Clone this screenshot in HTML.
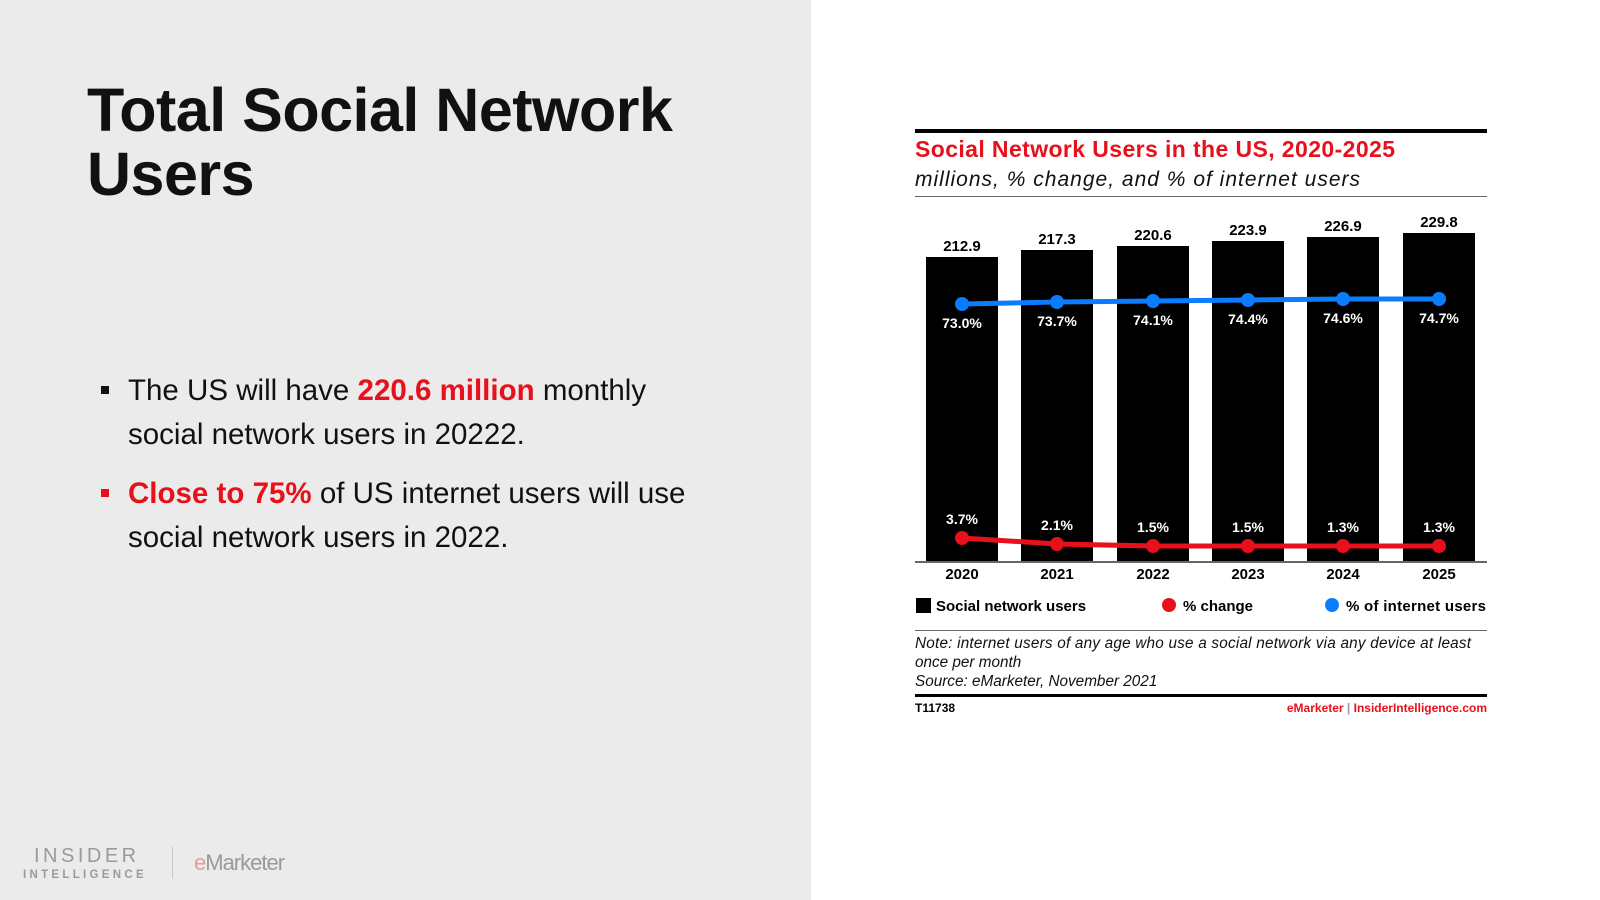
<!DOCTYPE html>
<html><head><meta charset="utf-8"><style>
body{margin:0;width:1600px;height:900px;position:relative;background:#fff;font-family:"Liberation Sans",sans-serif;overflow:hidden}
.left{position:absolute;left:0;top:0;width:811px;height:900px;background:#ebebeb}
.t{position:absolute;left:87px;top:78px;font-size:61px;font-weight:bold;line-height:64px;color:#111;letter-spacing:-0.5px}
.b{position:absolute;left:128px;font-size:29.5px;line-height:44px;color:#111}
.sq{position:absolute;left:101px;width:8px;height:8px}
.red{color:#e8101b;font-weight:bold}
</style></head><body>
<div class="left">
<div class="t">Total Social Network<br>Users</div>
<div class="sq" style="top:386px;background:#111"></div>
<div class="b" style="top:369px">The US will have <span class="red">220.6 million</span> monthly<br>social network users in 20222.</div>
<div class="sq" style="top:489px;background:#e8101b"></div>
<div class="b" style="top:472px"><span class="red">Close to 75%</span> of US internet users will use<br>social network users in 2022.</div>
<div style="position:absolute;left:34px;top:846px;font-size:20px;letter-spacing:3.5px;color:#9a9a9a;line-height:20px">INSIDER</div>
<div style="position:absolute;left:23px;top:869px;font-size:11.5px;letter-spacing:3.3px;color:#9a9a9a;font-weight:bold">INTELLIGENCE</div>
<div style="position:absolute;left:172px;top:847px;width:1px;height:32px;background:#c8c8c8"></div>
<div style="position:absolute;left:194px;top:850px;font-size:22px;color:#9a9a9a;letter-spacing:-1px"><span style="color:#e89aa0">e</span>Marketer</div>
</div>
<svg style="position:absolute;left:0;top:0" width="1600" height="900" font-family="Liberation Sans, sans-serif">
<rect x="915" y="129" width="572" height="4" fill="#000"/>
<text x="915" y="157" font-size="23" font-weight="bold" fill="#e8101b" textLength="480">Social Network Users in the US, 2020-2025</text>
<text x="915" y="186" font-size="21" font-style="italic" fill="#111" textLength="445">millions, % change, and % of internet users</text>
<rect x="915" y="196" width="572" height="1" fill="#666"/>
<g fill="#000">
<rect x="926" y="257" width="72" height="305"/><rect x="1021" y="250" width="72" height="312"/>
<rect x="1117" y="246" width="72" height="316"/><rect x="1212" y="241" width="72" height="321"/>
<rect x="1307" y="237" width="72" height="325"/><rect x="1403" y="233" width="72" height="329"/>
</g>
<rect x="915" y="561" width="572" height="2" fill="#666"/>
<g font-size="15" font-weight="bold" text-anchor="middle" fill="#000">
<text x="962" y="251">212.9</text><text x="1057" y="244">217.3</text><text x="1153" y="240">220.6</text>
<text x="1248" y="235">223.9</text><text x="1343" y="231">226.9</text><text x="1439" y="227">229.8</text>
<text x="962" y="579">2020</text><text x="1057" y="579">2021</text><text x="1153" y="579">2022</text>
<text x="1248" y="579">2023</text><text x="1343" y="579">2024</text><text x="1439" y="579">2025</text>
</g>
<polyline points="962,304 1057,302 1153,301 1248,300 1343,299 1439,299" fill="none" stroke="#0a7cff" stroke-width="5"/>
<g fill="#0a7cff"><circle cx="962" cy="304" r="7"/><circle cx="1057" cy="302" r="7"/><circle cx="1153" cy="301" r="7"/><circle cx="1248" cy="300" r="7"/><circle cx="1343" cy="299" r="7"/><circle cx="1439" cy="299" r="7"/></g>
<polyline points="962,538 1057,544 1153,546 1248,546 1343,546 1439,546" fill="none" stroke="#e8101b" stroke-width="5"/>
<g fill="#e8101b"><circle cx="962" cy="538" r="7"/><circle cx="1057" cy="544" r="7"/><circle cx="1153" cy="546" r="7"/><circle cx="1248" cy="546" r="7"/><circle cx="1343" cy="546" r="7"/><circle cx="1439" cy="546" r="7"/></g>
<g font-size="14" font-weight="bold" text-anchor="middle" fill="#fff">
<text x="962" y="328">73.0%</text><text x="1057" y="326">73.7%</text><text x="1153" y="325">74.1%</text>
<text x="1248" y="324">74.4%</text><text x="1343" y="323">74.6%</text><text x="1439" y="323">74.7%</text>
<text x="962" y="524">3.7%</text><text x="1057" y="530">2.1%</text><text x="1153" y="532">1.5%</text>
<text x="1248" y="532">1.5%</text><text x="1343" y="532">1.3%</text><text x="1439" y="532">1.3%</text>
</g>
<rect x="916" y="598" width="15" height="15" fill="#000"/>
<text x="936" y="611" font-size="15" font-weight="bold">Social network users</text>
<circle cx="1169" cy="605" r="7" fill="#e8101b"/>
<text x="1183" y="611" font-size="15" font-weight="bold">% change</text>
<circle cx="1332" cy="605" r="7" fill="#0a7cff"/>
<text x="1346" y="611" font-size="15" font-weight="bold" textLength="140">% of internet users</text>
<rect x="915" y="630" width="572" height="1" fill="#666"/>
<g font-size="15.3" font-style="italic" fill="#111">
<text x="915" y="648" textLength="556">Note: internet users of any age who use a social network via any device at least</text>
<text x="915" y="667">once per month</text>
<text x="915" y="686">Source: eMarketer, November 2021</text>
</g>
<rect x="915" y="694" width="572" height="3" fill="#000"/>
<text x="915" y="712" font-size="12" font-weight="bold">T11738</text>
<text x="1487" y="712" font-size="12" font-weight="bold" text-anchor="end" fill="#e8101b">eMarketer <tspan fill="#999">|</tspan> InsiderIntelligence.com</text>
</svg>
</body></html>
